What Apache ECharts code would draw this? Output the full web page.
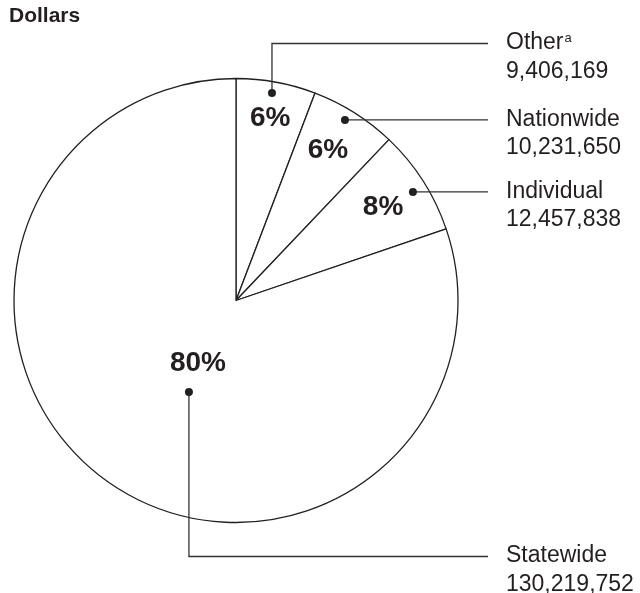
<!DOCTYPE html>
<html>
<head>
<meta charset="utf-8">
<script src="https://cdn.jsdelivr.net/npm/echarts@6/dist/echarts.min.js"></script>
<style>
  html, body { margin: 0; padding: 0; background: #ffffff; }
  #chart { width: 640px; height: 593px; }
</style>
</head>
<body>
<div id="chart"></div>
<script>
// ---- data ----
const categories = ['Other', 'Nationwide', 'Individual', 'Statewide'];
const values = [9406169, 10231650, 12457838, 130219752];
const footnotes = ['a', '', '', ''];
const unitTitle = 'Dollars';

// ---- layout constants ----
const CX = 236, CY = 300.5, R = 222;
const pctFrac = [0.833, 0.793, 0.784, 0.329];
const pctAngleOff = [0.2, -0.7, 0.3, -4.2];
const dotFrac = [0.949, 0.95, 0.935, 0.464];
const dotAngleOff = [-0.6, -1.1, 1.1, -8.4];
const elbowY = [43.5, null, null, 556.5];
const LINE_END_X = 488;
const TEXT_X = 506;
const INK = '#231f20';
const FONT = "'Liberation Sans', Arial, Helvetica, sans-serif";

const total = values.reduce((a, b) => a + b, 0);
const midAngles = [];
let cum = 0;
values.forEach(v => { midAngles.push((cum + v / 2) / total * 360); cum += v; });

function polar(frac, deg) {
  const t = deg * Math.PI / 180;
  return [CX + R * frac * Math.sin(t), CY - R * frac * Math.cos(t)];
}

const graphics = [];
categories.forEach((name, i) => {
  const dot = polar(dotFrac[i], midAngles[i] + dotAngleOff[i]);
  const ly = elbowY[i] == null ? dot[1] : elbowY[i];
  const pts = elbowY[i] == null ? [dot, [LINE_END_X, ly]] : [dot, [dot[0], ly], [LINE_END_X, ly]];
  graphics.push({
    type: 'polyline', silent: true, z: 10,
    shape: { points: pts },
    style: { stroke: '#333', lineWidth: 1.3, fill: null }
  });
  graphics.push({
    type: 'circle', silent: true, z: 11,
    shape: { cx: dot[0], cy: dot[1], r: 4 },
    style: { fill: INK }
  });
  const sup = footnotes[i] ? '{s|' + footnotes[i] + '}' : '';
  graphics.push({
    type: 'text', silent: true, z: 11,
    x: TEXT_X, y: ly - 15,
    style: {
      text: '{n|' + name + '}' + sup + '\n{n|' + values[i].toLocaleString('en-US') + '}',
      fill: INK,
      font: '23px ' + FONT,
      textAlign: 'left', textVerticalAlign: 'top',
      rich: {
        n: { fontSize: 23, fontFamily: FONT, lineHeight: 28.5, fill: INK },
        s: { fontSize: 13, fontFamily: FONT, lineHeight: 28.5, verticalAlign: 'top', padding: [3, 0, 0, 1], fill: INK }
      }
    }
  });
});

const chart = echarts.init(document.getElementById('chart'), null, { renderer: 'canvas' });
chart.setOption({
  animation: false,
  backgroundColor: '#ffffff',
  title: {
    text: unitTitle, left: 9, top: 6, padding: 0,
    textStyle: { fontFamily: FONT, fontWeight: 'bold', fontSize: 21, color: INK }
  },
  series: [{
    type: 'pie',
    center: [CX, CY],
    radius: [0, R],
    startAngle: 90,
    clockwise: true,
    percentPrecision: 0,
    avoidLabelOverlap: false,
    silent: true,
    emphasis: { disabled: true },
    itemStyle: { color: '#ffffff', borderColor: INK, borderWidth: 1.3 },
    label: {
      show: true, position: 'inside', formatter: '{d}%',
      fontFamily: FONT, fontWeight: 'bold', fontSize: 28, color: INK
    },
    labelLine: { show: false },
    labelLayout: function (params) {
      const i = params.dataIndex;
      const p = polar(pctFrac[i], midAngles[i] + pctAngleOff[i]);
      return { x: p[0], y: p[1], align: 'center', verticalAlign: 'middle' };
    },
    data: categories.map((c, i) => ({ name: c, value: values[i] }))
  }],
  graphic: graphics
});
</script>
</body>
</html>
